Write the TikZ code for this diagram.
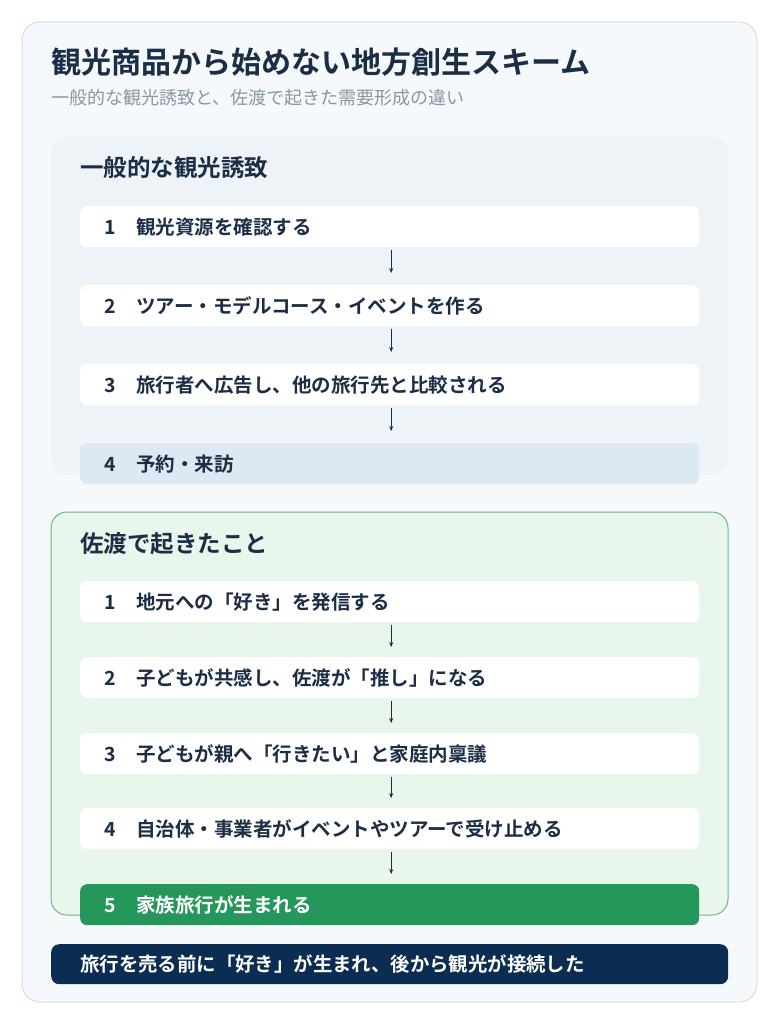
\documentclass[tikz,border=0pt]{standalone}
\usepackage{fontspec}
\setmainfont{Noto Sans CJK JP}
\newfontfamily\jpbold{Noto Sans CJK JP Bold}
\newfontfamily\jpmed{Noto Sans CJK JP Medium}
\usetikzlibrary{arrows.meta}
\definecolor{pagebg}{HTML}{FFFFFF}
\definecolor{cardbg}{HTML}{F5F9FC}
\definecolor{cardline}{HTML}{D6DEE8}
\definecolor{ink}{HTML}{1B2E45}
\definecolor{subgray}{HTML}{8A96A4}
\definecolor{panelA}{HTML}{EEF3F8}
\definecolor{panelB}{HTML}{E9F6EC}
\definecolor{panelBline}{HTML}{6DB583}
\definecolor{rowlast}{HTML}{DCE8F2}
\definecolor{rowgreen}{HTML}{25975A}
\definecolor{navy}{HTML}{0B2D52}
\tikzset{
  rowbox/.style={anchor=north west, fill=white, rounded corners=7pt, minimum width=619pt, minimum height=41pt, inner sep=0pt, text width=619pt, align=left, font=\jpbold\fontsize{19.5}{22}\selectfont, text=ink},
  flowarrow/.style={draw=ink, line width=0.6pt, -{Stealth[length=5pt,width=4pt]}},
  heading/.style={anchor=west, inner sep=0pt, font=\jpbold\fontsize{23.5}{27}\selectfont, text=ink}
}
\newcommand{\rowtext}[2]{\hspace*{24pt}\makebox[32pt][l]{#1}#2}
\begin{document}
\begin{tikzpicture}[x=1pt,y=-1pt]
\useasboundingbox (0,0) rectangle (779,1024);
\fill[pagebg] (0,0) rectangle (779,1024);
\draw[cardline, fill=cardbg, line width=1pt, rounded corners=18pt] (22,22) rectangle (757,1002);
\node[anchor=west, inner sep=0pt, font=\jpbold\fontsize{30}{34}\selectfont, text=ink] (title) at (51,62) {観光商品から始めない地方創生スキーム};
\node[anchor=west, inner sep=0pt, font=\fontsize{18}{21}\selectfont, text=subgray] (subtitle) at (51,98) {一般的な観光誘致と、佐渡で起きた需要形成の違い};
% panel A
\fill[panelA, rounded corners=16pt] (51,137) rectangle (728,475);
\node[heading] (hA) at (80,168) {一般的な観光誘致};
\node[rowbox] (a1) at (80,206) {\rowtext{1}{観光資源を確認する}};
\node[rowbox] (a2) at (80,285) {\rowtext{2}{ツアー・モデルコース・イベントを作る}};
\node[rowbox] (a3) at (80,364) {\rowtext{3}{旅行者へ広告し、他の旅行先と比較される}};
\node[rowbox, fill=rowlast] (a4) at (80,443) {\rowtext{4}{予約・来訪}};
\draw[flowarrow] ([xshift=1.5pt,yshift=-3pt]a1.south) -- ([xshift=1.5pt,yshift=12pt]a2.north);
\draw[flowarrow] ([xshift=1.5pt,yshift=-3pt]a2.south) -- ([xshift=1.5pt,yshift=12pt]a3.north);
\draw[flowarrow] ([xshift=1.5pt,yshift=-3pt]a3.south) -- ([xshift=1.5pt,yshift=12pt]a4.north);
% panel B
\draw[panelBline, fill=panelB, line width=1pt, rounded corners=16pt] (51,512) rectangle (728,915);
\node[heading] (hB) at (80,544) {佐渡で起きたこと};
\node[rowbox] (b1) at (80,581) {\rowtext{1}{地元への「好き」を発信する}};
\node[rowbox] (b2) at (80,657) {\rowtext{2}{子どもが共感し、佐渡が「推し」になる}};
\node[rowbox] (b3) at (80,733) {\rowtext{3}{子どもが親へ「行きたい」と家庭内稟議}};
\node[rowbox] (b4) at (80,808) {\rowtext{4}{自治体・事業者がイベントやツアーで受け止める}};
\node[rowbox, fill=rowgreen, text=white] (b5) at (80,884) {\rowtext{5}{家族旅行が生まれる}};
\draw[flowarrow] ([xshift=1.5pt,yshift=-3pt]b1.south) -- ([xshift=1.5pt,yshift=10pt]b2.north);
\draw[flowarrow] ([xshift=1.5pt,yshift=-3pt]b2.south) -- ([xshift=1.5pt,yshift=10pt]b3.north);
\draw[flowarrow] ([xshift=1.5pt,yshift=-3pt]b3.south) -- ([xshift=1.5pt,yshift=10pt]b4.north);
\draw[flowarrow] ([xshift=1.5pt,yshift=-3pt]b4.south) -- ([xshift=1.5pt,yshift=10pt]b5.north);
% bottom bar
\node[anchor=north west, fill=navy, rounded corners=8pt, minimum width=677pt, minimum height=40pt, inner sep=0pt, text width=677pt, align=left, font=\jpbold\fontsize{19.4}{22}\selectfont, text=white] (concl) at (51,944) {\hspace*{29pt}旅行を売る前に「好き」が生まれ、後から観光が接続した};
\end{tikzpicture}
\end{document}
